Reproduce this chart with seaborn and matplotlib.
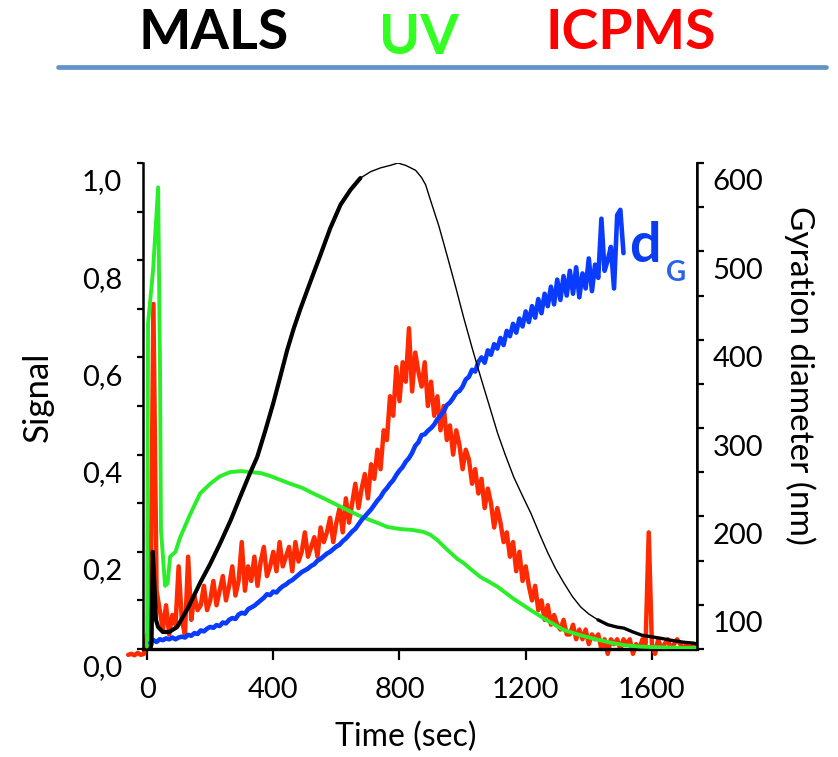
import matplotlib

matplotlib.use("Agg")

import matplotlib.pyplot as plt
import matplotlib.transforms as mtransforms
import numpy as np
import seaborn as sns
from matplotlib.lines import Line2D
from matplotlib.ticker import AutoMinorLocator

# --- data ---------------------------------------------------------------------
# MALS (black), normalised signal
mals_time = [10, 14, 18, 22, 28, 35, 50, 70, 95, 130, 168, 200, 232, 265, 295, 325,
             349, 375, 400, 422, 444, 465, 486, 520, 549, 580, 613, 645, 676, 708,
             740, 770, 795, 820, 851, 870, 883, 898, 925, 952, 978, 1003, 1030, 1057,
             1085, 1111, 1135, 1162, 1190, 1216, 1245, 1270, 1295, 1321, 1348, 1375,
             1400, 1429, 1460, 1490, 1511, 1540, 1570, 1600, 1629, 1660, 1700, 1733, 1745]
mals_signal = [0.0, 0.01, 0.2, 0.15, 0.06, 0.045, 0.035, 0.035, 0.045, 0.085, 0.136,
               0.175, 0.218, 0.265, 0.313, 0.36, 0.395, 0.45, 0.506, 0.56, 0.615, 0.66,
               0.70, 0.76, 0.81, 0.865, 0.914, 0.945, 0.969, 0.982, 0.99, 0.995, 1.0,
               0.995, 0.985, 0.97, 0.955, 0.924, 0.87, 0.807, 0.745, 0.683, 0.62, 0.56,
               0.5, 0.444, 0.4, 0.354, 0.315, 0.28, 0.235, 0.198, 0.165, 0.136, 0.108,
               0.086, 0.072, 0.06, 0.05, 0.045, 0.043, 0.035, 0.028, 0.025, 0.022,
               0.018, 0.014, 0.012, 0.01]

# UV (green), normalised signal
uv_time = [0, 3, 19, 35, 41, 44, 48, 57, 65, 73, 90, 105, 135, 168, 200, 230, 263,
           300, 327, 360, 390, 422, 454, 490, 527, 560, 600, 635, 670, 708, 740, 762,
           800, 840, 876, 898, 920, 950, 984, 1003, 1030, 1057, 1085, 1111, 1160,
           1216, 1270, 1321, 1375, 1429, 1470, 1511, 1560, 1600, 1650, 1700, 1745]
uv_signal = [0.005, 0.67, 0.78, 0.95, 0.574, 0.245, 0.21, 0.13, 0.135, 0.19, 0.2,
             0.23, 0.275, 0.32, 0.34, 0.355, 0.364, 0.366, 0.364, 0.362, 0.356, 0.348,
             0.34, 0.332, 0.32, 0.31, 0.297, 0.286, 0.275, 0.265, 0.257, 0.251, 0.247,
             0.245, 0.241, 0.235, 0.224, 0.205, 0.185, 0.177, 0.162, 0.148, 0.138,
             0.128, 0.104, 0.08, 0.058, 0.039, 0.028, 0.019, 0.013, 0.008, 0.005,
             0.004, 0.003, 0.002, 0.002]

# ICP-MS (red), normalised signal, one reading every 10 s from -60 s
icpms_start, icpms_step = -60, 10
icpms_signal = [
    -0.012, -0.010, -0.013, -0.008, -0.012, -0.010, 0.030, 0.020, 0.710, 0.120,
    0.08, 0.04, 0.09, 0.03, 0.07, 0.05, 0.17, 0.06, 0.03, 0.19,
    0.06, 0.11, 0.08, 0.09, 0.13, 0.08, 0.10, 0.14, 0.09, 0.12,
    0.15, 0.10, 0.13, 0.17, 0.11, 0.14, 0.22, 0.12, 0.17, 0.14,
    0.19, 0.13, 0.18, 0.21, 0.15, 0.17, 0.20, 0.16, 0.22, 0.17,
    0.19, 0.21, 0.16, 0.22, 0.18, 0.20, 0.24, 0.19, 0.21, 0.23,
    0.19, 0.25, 0.22, 0.24, 0.27, 0.22, 0.26, 0.29, 0.24, 0.31,
    0.26, 0.30, 0.34, 0.29, 0.33, 0.36, 0.31, 0.38, 0.35, 0.41,
    0.37, 0.45, 0.43, 0.52, 0.48, 0.58, 0.51, 0.59, 0.55, 0.66,
    0.53, 0.61, 0.57, 0.54, 0.59, 0.50, 0.55, 0.48, 0.52, 0.45,
    0.50, 0.43, 0.46, 0.40, 0.45, 0.42, 0.37, 0.41, 0.39, 0.34,
    0.37, 0.32, 0.35, 0.29, 0.33, 0.30, 0.25, 0.29, 0.26, 0.22,
    0.24, 0.19, 0.22, 0.16, 0.20, 0.14, 0.17, 0.13, 0.10, 0.13,
    0.08, 0.10, 0.06, 0.09, 0.05, 0.07, 0.05, 0.04, 0.06, 0.03,
    0.03, 0.05, 0.02, 0.04, 0.02, 0.04, 0.01, 0.03, 0.02, 0.03,
    0.00, 0.02, -0.01, 0.02, 0.01, 0.02, 0.00, 0.02, 0.01, 0.02,
    -0.01, 0.01, 0.00, 0.02, 0.01, 0.24, 0.01, -0.01, 0.02, 0.00,
    0.01, 0.02, 0.00, 0.01, 0.02, 0.01, 0.00, 0.01, 0.00, 0.01,
    0.00,
]

# gyration diameter (blue, nm), one reading every 10 s from 10 s
dg_start, dg_step = 10, 10
dg_nm = [
    57, 60, 58, 61, 60, 62, 61, 63, 61, 63,
    64, 63, 66, 65, 68, 67, 71, 70, 73, 75,
    74, 77, 76, 80, 79, 83, 85, 84, 89, 91,
    90, 95, 97, 99, 102, 105, 108, 112, 111, 115,
    114, 118, 121, 123, 126, 128, 131, 134, 137, 139,
    141, 144, 146, 150, 152, 155, 158, 160, 163, 166,
    168, 172, 175, 179, 183, 186, 191, 196, 200, 204,
    208, 213, 218, 222, 228, 232, 237, 241, 247, 252,
    256, 262, 266, 272, 280, 284, 292, 293, 297, 300,
    304, 310, 314, 319, 326, 329, 334, 340, 342, 347,
    355, 358, 366, 364, 375, 380, 374, 388, 383, 395,
    390, 402, 394, 410, 404, 418, 408, 424, 415, 432,
    420, 438, 425, 446, 430, 452, 438, 460, 440, 468,
    445, 472, 450, 478, 452, 482, 448, 475, 458, 492,
    455, 485, 470, 537, 478, 490, 505, 458, 541, 547,
    498,
]

x_ticks = [0, 400, 800, 1200, 1600]
signal_ticks = [0.0, 0.2, 0.4, 0.6, 0.8, 1.0]
signal_tick_labels = ["0,0", "0,2", "0,4", "0,6", "0,8", "1,0"]
dg_ticks = [100, 200, 300, 400, 500, 600]

# --- styling --------------------------------------------------------------------
W, H = 838, 757
FONT = "Lato"
BLACK = "#000000"
GREEN = "#2bee2b"
RED = "#ff2a00"
BLUE = "#0a3cff"

sns.set_theme(style="white")
plt.rcParams["font.family"] = [FONT, "DejaVu Sans"]
plt.rcParams["text.color"] = "black"
plt.rcParams["axes.labelcolor"] = "black"

fig = plt.figure(figsize=(W / 100, H / 100), dpi=100)
fig.patch.set_facecolor("white")
ax = fig.add_axes([143 / W, 1 - 649 / H, (697 - 143) / W, (649 - 163) / H])
ax2 = ax.twinx()

ax.set_xlim(-13, 1743)
ax.set_ylim(0, 1.0)
ax2.set_ylim(50, 600)

# blue belongs to the right axis; it is drawn on ax so the z-order with the
# signal traces matches the source
dg_time = dg_start + dg_step * np.arange(len(dg_nm))
icpms_time = icpms_start + icpms_step * np.arange(len(icpms_signal))

sns.lineplot(x=icpms_time, y=icpms_signal, ax=ax, color=RED, linewidth=3.2,
             sort=False, estimator=None, clip_on=False, zorder=2)
sns.lineplot(x=uv_time, y=uv_signal, ax=ax, color=GREEN, linewidth=2.8,
             sort=False, estimator=None, zorder=3)
sns.lineplot(x=dg_time, y=dg_nm, ax=ax, color=BLUE, linewidth=3.3,
             sort=False, estimator=None, transform=ax2.transData, zorder=4)

mt = np.array(mals_time)
ms = np.array(mals_signal)
for lo, hi, lw in [(0, 680, 3.0), (676, 1429, 1.0), (1429, 1800, 2.4)]:
    sel = (mt >= lo) & (mt <= hi)
    sns.lineplot(x=mt[sel], y=ms[sel], ax=ax, color=BLACK, linewidth=lw,
                 sort=False, estimator=None, zorder=5)

# --- axes -------------------------------------------------------------------------
for a in (ax, ax2):
    a.grid(False)
    a.spines["top"].set_visible(False)
    for s in ("left", "right", "bottom"):
        a.spines[s].set_color("black")
ax.spines["left"].set_linewidth(1.8)
ax.spines["bottom"].set_linewidth(2.4)
ax2.spines["right"].set_linewidth(1.8)
ax2.spines["left"].set_visible(False)
ax2.spines["bottom"].set_visible(False)

ax.set_xticks(x_ticks)
ax.set_xticklabels([str(v) for v in x_ticks])
ax.set_yticks(signal_ticks)
ax.set_yticklabels(signal_tick_labels)
ax.yaxis.set_minor_locator(AutoMinorLocator(2))
ax2.set_yticks(dg_ticks)
ax2.set_yticklabels([str(v) for v in dg_ticks])
ax2.yaxis.set_minor_locator(AutoMinorLocator(2))

tick_fs = 21
ax.tick_params(axis="x", which="major", direction="out", length=8, width=1.6,
               labelsize=tick_fs, pad=12, bottom=True, colors="black")
ax.tick_params(axis="y", which="both", direction="out", length=4, width=1.6,
               labelsize=tick_fs, pad=11, left=True, colors="black")
ax2.tick_params(axis="y", which="both", direction="out", length=5, width=1.6,
                labelsize=tick_fs, pad=6, right=True, colors="black")

# the source draws the y tick labels a little below their ticks
shift = mtransforms.ScaledTranslation(0, -17 / 100, fig.dpi_scale_trans)
for lab in ax.get_yticklabels() + ax2.get_yticklabels():
    lab.set_transform(lab.get_transform() + shift)

label_fs = 24
ax.set_xlabel("Time (sec)", fontsize=label_fs - 1, va="center")
ax.xaxis.set_label_coords((406 - 143) / 554, (649 - 737) / 486)
ax.set_ylabel("Signal", fontsize=label_fs + 1, va="center")
ax.yaxis.set_label_coords((38 - 143) / 554, (649 - 397) / 486)
ax2.set_ylabel("Gyration diameter (nm)", fontsize=label_fs, rotation=-90, va="center")
ax2.yaxis.set_label_coords((800 - 143) / 554, (649 - 375) / 486)

# d_G tag next to the blue trace
ax2.text(1527, 488, "d", color="#0a3cf0", fontsize=40, fontweight="bold",
         ha="left", va="baseline")
ax2.text(1645, 467, "G", color="#2a62ea", fontsize=20, fontweight="bold",
         ha="left", va="baseline")

# --- header -----------------------------------------------------------------------
head_y = 1 - 33 / H
fig.text(214 / W, head_y, "MALS", color="black", fontsize=40, fontweight="bold",
         ha="center", va="center")
fig.text(419 / W, 1 - 38 / H, "UV", color="#33ff22", fontsize=40, fontweight="bold",
         ha="center", va="center")
fig.text(631 / W, head_y, "ICPMS", color="#ff0000", fontsize=40, fontweight="bold",
         ha="center", va="center")
fig.add_artist(Line2D([58 / W, 826 / W], [1 - 67 / H, 1 - 67 / H],
                      color="#6394c8", linewidth=3.4, transform=fig.transFigure))

fig.savefig("out.png", dpi=100, facecolor="white")
